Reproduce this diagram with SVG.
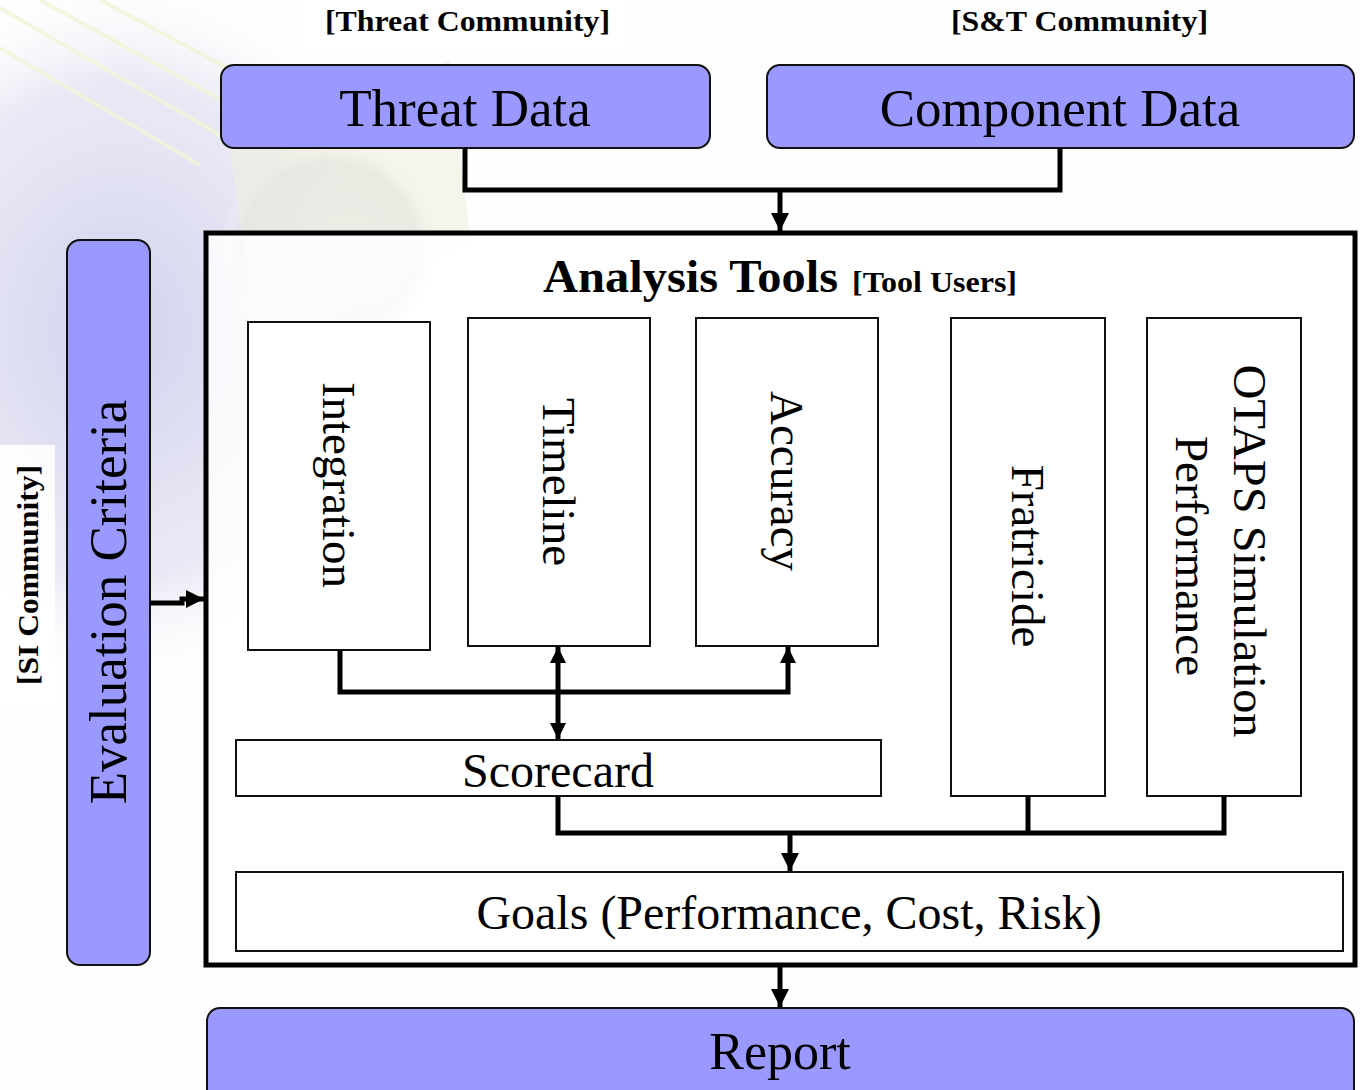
<svg xmlns="http://www.w3.org/2000/svg" width="1360" height="1090" viewBox="0 0 1360 1090">
<defs>
<style>
.t{font-family:"Liberation Serif","Times New Roman",serif;fill:#000}
.b{font-weight:bold}
.blue{fill:#9999ff;stroke:#111;stroke-width:2}
.wbox{fill:#fff;stroke:#111;stroke-width:2}
.conn{fill:none;stroke:#000;stroke-width:5;stroke-linejoin:miter}
</style>
<radialGradient id="glow" cx="0.5" cy="0.5" r="0.5">
<stop offset="0" stop-color="#c9c9ea" stop-opacity="0.85"/>
<stop offset="0.7" stop-color="#d6d6ee" stop-opacity="0.5"/>
<stop offset="1" stop-color="#ffffff" stop-opacity="0"/>
</radialGradient>
<radialGradient id="lens" cx="0.5" cy="0.5" r="0.5">
<stop offset="0" stop-color="#e9e9f2"/>
<stop offset="0.8" stop-color="#d8d8e4"/>
<stop offset="1" stop-color="#ffffff" stop-opacity="0"/>
</radialGradient>
<marker id="ah" markerUnits="userSpaceOnUse" markerWidth="20" markerHeight="20" viewBox="0 0 20 20" refX="18" refY="9" orient="auto">
<path d="M0,0 L18,9 L0,18 z" fill="#000"/>
</marker>
<marker id="ahs" markerUnits="userSpaceOnUse" markerWidth="20" markerHeight="20" viewBox="0 0 20 20" refX="16" refY="8" orient="auto-start-reverse">
<path d="M0,0 L16,8 L0,16 z" fill="#000"/>
</marker>
</defs>
<rect width="1360" height="1090" fill="#fefefe"/>
<g id="background">
<ellipse cx="120" cy="330" rx="300" ry="360" fill="url(#glow)"/>
<ellipse cx="330" cy="250" rx="110" ry="110" fill="url(#lens)" opacity="0.7"/>
<path d="M230,150 L450,60 L470,240 L260,360 Z" fill="#efeedd" opacity="0.6"/>
<g stroke="#f4f4d8" stroke-width="4" opacity="0.8" fill="none">
<line x1="0" y1="8" x2="220" y2="135"/>
<line x1="0" y1="48" x2="200" y2="165"/>
<line x1="40" y1="0" x2="240" y2="110"/>
<line x1="100" y1="0" x2="250" y2="80"/>
</g>
<rect x="305" y="0" width="320" height="50" fill="#fff"/>
<rect x="0" y="445" width="55" height="260" fill="#fff" opacity="0.9"/>
</g>
<g id="labels">
<text class="t b" x="325" y="31" font-size="30" textLength="285" lengthAdjust="spacingAndGlyphs">[Threat Community]</text>
<text class="t b" x="951" y="31" font-size="30" textLength="257" lengthAdjust="spacingAndGlyphs">[S&amp;T Community]</text>
<text class="t b" transform="translate(38,575) rotate(-90)" x="0" y="0" font-size="29" text-anchor="middle" textLength="220" lengthAdjust="spacingAndGlyphs">[SI Community]</text>
</g>
<g id="analysis-tools">
<rect x="206" y="233" width="1149" height="732" fill="#fff" fill-opacity="0.82" stroke="#000" stroke-width="5"/>
<text class="t b" x="543" y="292" font-size="46" textLength="295" lengthAdjust="spacingAndGlyphs">Analysis Tools</text>
<text class="t b" x="852" y="292" font-size="29" textLength="165" lengthAdjust="spacingAndGlyphs">[Tool Users]</text>
</g>
<g id="threat-data">
<rect class="blue" x="221" y="65" width="489" height="83" rx="13"/>
<text class="t" x="465" y="126" font-size="53" text-anchor="middle">Threat Data</text>
</g>
<g id="component-data">
<rect class="blue" x="767" y="65" width="587" height="83" rx="13"/>
<text class="t" x="1060" y="126" font-size="53" text-anchor="middle">Component Data</text>
</g>
<g id="evaluation-criteria">
<rect class="blue" x="67" y="240" width="83" height="725" rx="13"/>
<text class="t" transform="translate(109,602) rotate(-90)" x="0" y="17" font-size="53" text-anchor="middle">Evaluation Criteria</text>
</g>
<g id="integration">
<rect class="wbox" x="248" y="322" width="182" height="328"/>
<text class="t" transform="translate(339,485) rotate(90)" x="0" y="16" font-size="47" text-anchor="middle">Integration</text>
</g>
<g id="timeline">
<rect class="wbox" x="468" y="318" width="182" height="328"/>
<text class="t" transform="translate(559,482) rotate(90)" x="0" y="16" font-size="47" text-anchor="middle">Timeline</text>
</g>
<g id="accuracy">
<rect class="wbox" x="696" y="318" width="182" height="328"/>
<text class="t" transform="translate(787,481) rotate(90)" x="0" y="16" font-size="47" text-anchor="middle">Accuracy</text>
</g>
<g id="fratricide">
<rect class="wbox" x="951" y="318" width="154" height="478"/>
<text class="t" transform="translate(1028,556) rotate(90)" x="0" y="16" font-size="47" text-anchor="middle">Fratricide</text>
</g>
<g id="otaps">
<rect class="wbox" x="1147" y="318" width="154" height="478"/>
<text class="t" transform="translate(1250,551) rotate(90)" x="0" y="16" font-size="47" text-anchor="middle" textLength="373" lengthAdjust="spacingAndGlyphs">OTAPS Simulation</text>
<text class="t" transform="translate(1192,556) rotate(90)" x="0" y="16" font-size="47" text-anchor="middle">Performance</text>
</g>
<g id="scorecard">
<rect class="wbox" x="236" y="740" width="645" height="56"/>
<text class="t" x="558" y="787" font-size="48" text-anchor="middle">Scorecard</text>
</g>
<g id="goals">
<rect class="wbox" x="236" y="872" width="1107" height="79"/>
<text class="t" x="789" y="929" font-size="48" text-anchor="middle">Goals (Performance, Cost, Risk)</text>
</g>
<g id="report">
<rect class="blue" x="207" y="1008" width="1147" height="100" rx="13"/>
<text class="t" x="780" y="1069" font-size="52" text-anchor="middle">Report</text>
</g>
<g id="connectors">
<path class="conn" d="M465,148 V190 H1060 V148"/>
<path class="conn" d="M780,190 V231" marker-end="url(#ah)"/>
<path class="conn" d="M150,603 H182 V599 H204" marker-end="url(#ah)"/>
<path class="conn" d="M340,650 V692 H788 V647" marker-end="url(#ahs)"/>
<path class="conn" d="M558,647 V739" marker-start="url(#ahs)" marker-end="url(#ahs)"/>
<path class="conn" d="M558,796 V833 H1224 V796"/>
<path class="conn" stroke-width="4" d="M1028,796 V833"/>
<path class="conn" d="M790,833 V871" marker-end="url(#ah)"/>
<path class="conn" d="M780,965 V1007" marker-end="url(#ah)"/>
</g>
</svg>
